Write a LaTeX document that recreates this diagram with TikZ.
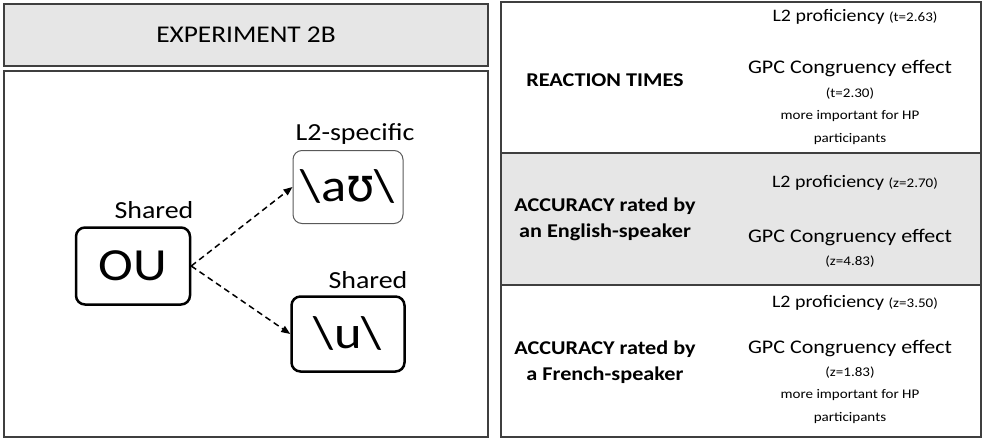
\documentclass[tikz,border=0pt]{standalone}
\usepackage{fontspec}
\setmainfont[FakeStretch=1.14]{Carlito}
\newfontfamily\ipafont{DejaVu Sans}
\usetikzlibrary{arrows.meta}
\definecolor{bordergray}{HTML}{3F3F3F}
\definecolor{panelgray}{HTML}{E6E6E6}
\definecolor{thingray}{HTML}{595959}
\begin{document}
\begin{tikzpicture}[x=1pt,y=-1pt,
  panel/.style={draw=bordergray, line width=1.5pt, inner sep=0pt},
  unitbox/.style={draw=black, line width=2.5pt, rounded corners=9pt, inner sep=0pt},
  thinbox/.style={draw=thingray, line width=1pt, rounded corners=9pt, inner sep=0pt},
  lbl/.style={font=\fontsize{24.5}{28}\selectfont, inner sep=0pt},
  big/.style={font=\fontsize{46}{50}\selectfont},
  rowhead/.style={font=\bfseries\fontsize{19.5}{26}\selectfont, align=center, inner sep=0pt},
  effect/.style={font=\fontsize{19.3}{24}\selectfont, align=center, inner sep=0pt},
  prof/.style={font=\fontsize{17.5}{22}\selectfont, inner sep=0pt},
  stat/.style={font=\fontsize{13.2}{16}\selectfont},
  arr/.style={-{Triangle[length=9pt,width=7pt]}, dashed, dash pattern=on 6pt off 4pt, line width=1.5pt, black}
]
\useasboundingbox (0,0) rectangle (986,439);
% left panels
\node[panel, fill=panelgray, minimum width=484pt, minimum height=62pt] (head) at (246,35) {};
\node[font=\fontsize{24}{28}\selectfont] (headtxt) at (head.center) {EXPERIMENT 2B};
\node[panel, minimum width=484pt, minimum height=366pt] (main) at (246,254) {};
% units
\node[unitbox, minimum width=114pt, minimum height=77pt] (ou) at (133,266) {};
\node[big] (outxt) at (ou.center) {OU};
\node[lbl] (sh1) at (154,210) {Shared};
\node[thinbox, minimum width=110pt, minimum height=73pt] (au) at (348,187) {};
\node[big] (autxt) at (au.center) {\textbackslash a{\ipafont ʊ}\textbackslash};
\node[lbl] (l2s) at (355,134) {L2-specific};
\node[unitbox, minimum width=113pt, minimum height=75pt] (u) at (348,334) {};
\node[big] (utxt) at (u.center) {\textbackslash u\textbackslash};
\node[lbl] (sh2) at (368,280) {Shared};
\draw[arr] (ou.east) -- (au.west);
\draw[arr] (ou.east) -- (u.west);
% right table
\node[panel, minimum width=480pt, minimum height=151pt] (r1) at (741,77.5) {};
\node[panel, fill=panelgray, minimum width=480pt, minimum height=132pt] (r2) at (741,219) {};
\node[panel, minimum width=480pt, minimum height=152pt] (r3) at (741,361) {};
% row 1
\node[rowhead] (h1) at (605,80) {REACTION TIMES};
\node[prof] (p1) at (855,17) {L2 proficiency {\fontsize{13.2}{16}\selectfont(t=2.63)}};
\node[effect] (g1) at (850,68) {GPC Congruency effect};
\node[stat] (t1) at (850,94) {(t=2.30)};
\node[stat] (m1) at (850,116) {more important for HP};
\node[stat] (q1) at (850,139) {participants};
% row 2
\node[rowhead] (h2) at (605,219) {ACCURACY rated by\\an English-speaker};
\node[prof] (p2) at (855,183) {L2 proficiency {\fontsize{13.2}{16}\selectfont(z=2.70)}};
\node[effect] (g2) at (850,237) {GPC Congruency effect};
\node[stat] (t2) at (850,262) {(z=4.83)};
% row 3
\node[rowhead] (h3) at (605,362) {ACCURACY rated by\\a French-speaker};
\node[prof] (p3) at (855,303) {L2 proficiency {\fontsize{13.2}{16}\selectfont(z=3.50)}};
\node[effect] (g3) at (850,348) {GPC Congruency effect};
\node[stat] (t3) at (850,373) {(z=1.83)};
\node[stat] (m3) at (850,395) {more important for HP};
\node[stat] (q3) at (850,418) {participants};
\end{tikzpicture}
\end{document}
